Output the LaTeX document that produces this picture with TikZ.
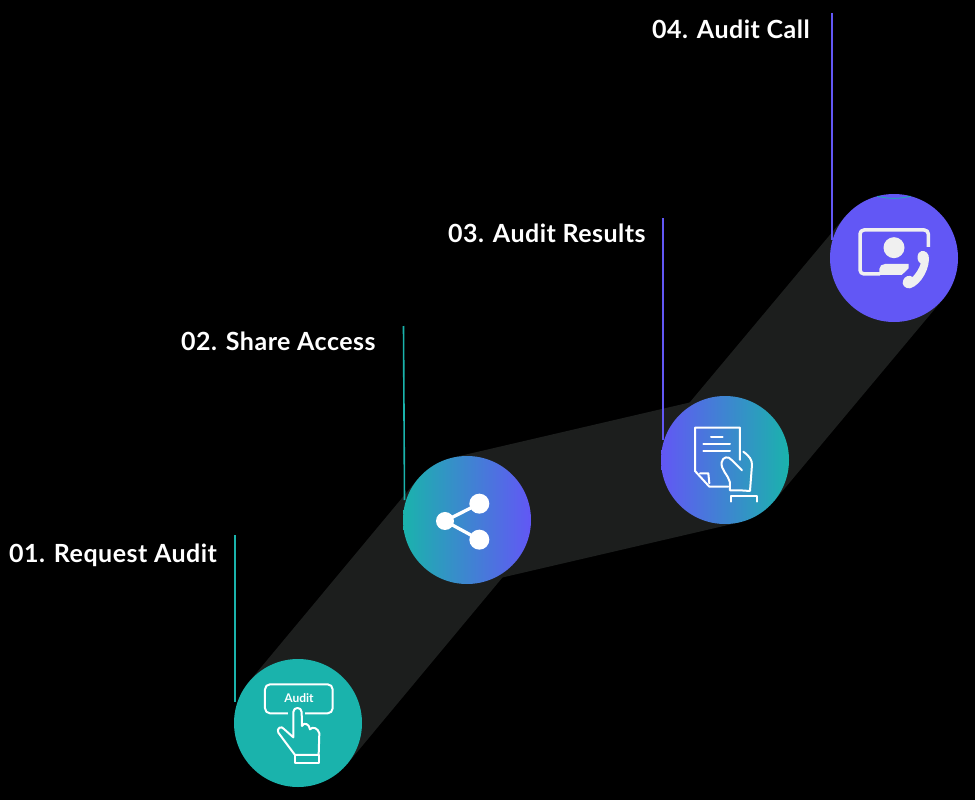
\documentclass[tikz,border=0pt]{standalone}
\usepackage{fontspec}
\setmainfont{Lato}
\definecolor{teal1}{HTML}{1AB3AC}
\definecolor{purp1}{HTML}{6257F5}
\definecolor{bandc}{HTML}{1C1E1D}
\definecolor{iconw}{HTML}{F0F0F0}
\tikzset{
  band/.style={line width=128pt,bandc,line cap=butt},
  disc/.style={circle,minimum size=128pt,inner sep=0pt,outer sep=0pt},
  lbl/.style={anchor=base west,inner sep=0pt,text=white,font=\fontsize{25}{26}\selectfont\bfseries\addfontfeature{LetterSpace=2}},
  lead/.style={line width=1.6pt},
  ico/.style={draw=white,line width=2pt,line join=round,line cap=round,x=0.3333pt,y=-0.3333pt},
  icos/.style={x=0.3333pt,y=-0.3333pt}
}
\begin{document}
\begin{tikzpicture}[x=1pt,y=-1pt]
\fill[black] (0,0) rectangle (975,800);
\useasboundingbox (0,0) rectangle (975,800);
\coordinate (p1) at (298,723);
\coordinate (p2) at (467,520);
\coordinate (p3) at (725,460);
\coordinate (p4) at (894,258);
\draw[band] (p1) -- (p2);
\draw[band] (p2) -- (p3);
\draw[band] (p3) -- (p4);
\coordinate (t1) at (235,535);\coordinate (b1) at (235,702);
\coordinate (t2) at (403.5,326);\coordinate (b2) at (404.5,500);
\coordinate (t3) at (663,218);\coordinate (b3) at (663,440);
\coordinate (t4) at (832,13);\coordinate (b4) at (832,240);
\draw[lead,teal1] (t1) -- (b1);
\draw[lead,teal1] (t2) -- (b2);
\draw[lead,purp1] (t3) -- (b3);
\draw[lead,purp1] (t4) -- (b4);
\node[disc,fill=teal1] (c1) at (p1) {};
\node[disc,left color=teal1,right color=purp1] (c2) at (p2) {};
\node[disc,left color=purp1,right color=teal1] (c3) at (p3) {};
\node[disc,fill=purp1] (c4) at (p4) {};
\draw[teal1,line width=0.8pt] (c4.75) arc[start angle=-75,end angle=-105,radius=64pt];
\node[lbl] (l1) at (9,562) {01. Request Audit};
\node[lbl] (l2) at (181,350) {02. Share Access};
\node[lbl] (l3) at (448,242) {03. Audit Results};
\node[lbl] (l4) at (652,39) {04. Audit Call};
% icon 1
\begin{scope}[shift={(220pt,-650pt)}]
\draw[ico,rounded corners=5pt] (135,103) rectangle (338,190);
\fill[teal1,icos] (205,180) rectangle (255,197);
\draw[ico] (220,262) -- (220,186) .. controls (220,170) and (245,170) .. (245,186) -- (246,228)
 .. controls (252,215) and (268,222) .. (270,238) .. controls (278,228) and (295,235) .. (298,250) -- (296,315)
 -- (225,315) -- (175,248) .. controls (168,235) and (185,225) .. (193,238) -- (220,262);
\draw[ico] (225,315) rectangle (298,338);
\end{scope}
\node[text=white,inner sep=0pt,font=\fontsize{12}{12}\selectfont\bfseries] (a1) at (299,698) {Audit};
% icon 2
\begin{scope}[shift={(650pt,-385pt)}]
\draw[ico] (270,225) -- (270,128) -- (135,128) -- (135,258) -- (178,305) -- (235,305);
\draw[ico] (150,265) -- (175,265) -- (178,295);
\draw[ico] (183,157) -- (218,157) (160,177) -- (240,177) (160,197) -- (240,197);
\draw[ico] (280,200) .. controls (300,215) and (306,225) .. (306,240) -- (300,318) -- (270,316) -- (240,316) -- (240,292)
 .. controls (235,270) and (212,255) .. (215,232) .. controls (218,215) and (235,212) .. (245,225) -- (276,256);
\draw[ico] (243,350) -- (243,333) -- (320,333) -- (320,350);
\end{scope}
% icon 3
\begin{scope}[shift={(820pt,-185pt)}]
\draw[ico,draw=iconw,line width=3.5pt,line cap=butt,rounded corners=4pt] (325,186) -- (325,135) -- (120,135) -- (120,267) -- (180,267);
\fill[iconw,icos] (222,188) circle[radius=10.5pt];
\fill[iconw,icos] (178,270) -- (178,252) .. controls (178,243) and (186,237) .. (195,237) -- (266,237) -- (266,250) -- (245,270) -- cycle;
\fill[iconw,icos] (296,204) .. controls (305,193) and (322,198) .. (326,212) .. controls (332,245) and (305,300) .. (270,310)
 .. controls (255,312) and (243,298) .. (250,285) .. controls (253,275) and (268,268) .. (278,276)
 .. controls (288,265) and (298,250) .. (302,236) .. controls (292,230) and (290,215) .. (296,204) -- cycle;
\end{scope}
% icon share
\begin{scope}[shift={(395pt,-445pt)},icos]
\coordinate (s1) at (150,228);
\coordinate (s2) at (253,176);
\coordinate (s3) at (253,284);
\draw[white,line width=3.3pt] (s2) -- (s1) -- (s3);
\fill[white] (s1) circle[radius=9pt] (s2) circle[radius=10pt] (s3) circle[radius=10pt];
\end{scope}
\end{tikzpicture}
\end{document}
